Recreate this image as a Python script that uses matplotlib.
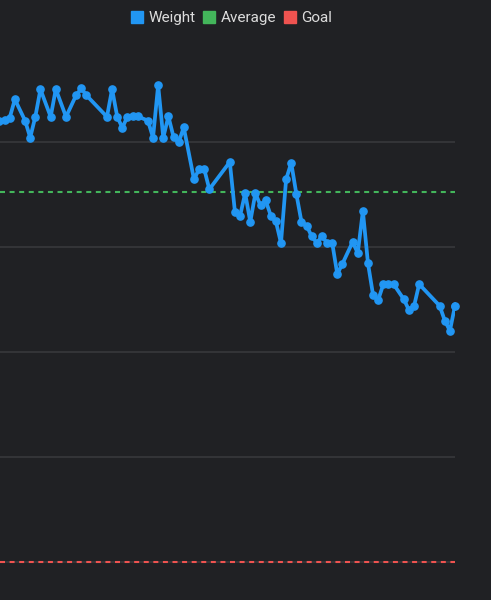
import numpy as np
import matplotlib
matplotlib.use("Agg")
import matplotlib.pyplot as plt
from matplotlib.lines import Line2D

# day index and weight (kg)
days = [0, 1, 2, 3, 5, 6, 7, 8, 10, 11, 13, 15, 16, 17, 21, 22, 23, 24, 25, 26,
        27, 29, 30, 31, 32, 33, 34, 35, 36, 38, 39, 40, 41, 45, 46, 47, 48, 49, 50, 51,
        52, 53, 54, 55, 56, 57, 58, 59, 60, 61, 62, 63, 64, 65, 66, 67, 69, 70, 71, 72,
        73, 74, 75, 76, 77, 79, 80, 81, 82, 86, 87, 88, 89]
weight = [86.0, 86.05, 86.16, 87.03, 86.02, 85.21, 86.2, 87.51, 86.2, 87.52, 86.2, 87.24,
          87.55, 87.22, 86.2, 87.52, 86.21, 85.68, 86.21, 86.22, 86.22, 86.02, 85.21, 87.71,
          85.21, 86.22, 85.25, 84.98, 85.7, 83.22, 83.71, 83.71, 82.75, 84.05, 81.68, 81.48,
          82.56, 81.2, 82.56, 81.98, 82.22, 81.5, 81.22, 80.19, 83.22, 84.01, 82.53, 81.2,
          81.02, 80.51, 80.2, 80.51, 80.2, 80.21, 78.71, 79.2, 80.24, 79.71, 81.71, 79.22,
          77.7, 77.48, 78.23, 78.23, 78.23, 77.51, 77.0, 77.19, 78.23, 77.2, 76.5, 76.01, 77.2]
average = 82.62
goal = 65.0
grid_values = [65, 70, 75, 80, 85]
labels = ["Weight", "Average", "Goal"]

bg = "#202124"
blue = "#2196f3"
green = "#43b65b"
red = "#ef5350"

plt.rcParams["font.family"] = ["Roboto", "DejaVu Sans"]

fig = plt.figure(figsize=(4.91, 6.0), dpi=100, facecolor=bg)
ax = fig.add_axes([0, 0, 455 / 491, 555 / 600])
ax.set_facecolor(bg)

for g in grid_values:
    ax.axhline(g, color="#3a3b3e", lw=1.1, zorder=1)

ax.axhline(average, color=green, lw=1.5, dashes=(2.4, 2.2), zorder=2)
ax.axhline(goal, color=red, lw=1.5, dashes=(2.4, 2.2), zorder=2)

ax.plot(days, weight, color=blue, lw=2.7, marker="o", markersize=5.2,
        solid_joinstyle="round", zorder=3)
# keep the last dot whole at the right edge
ax.plot(days[-1:], weight[-1:], color=blue, marker="o", markersize=5.2,
        ls="none", zorder=3, clip_on=False)

ax.set_xlim(0.1, 89)
ax.set_ylim(63.19, 89.62)
for s in ax.spines.values():
    s.set_visible(False)
ax.set_xticks([])
ax.set_yticks([])

handles = [Line2D([], [], color=c, marker="s", ls="none", markersize=8)
           for c in [blue, green, red]]
fig.legend(handles, labels, loc="center", bbox_to_anchor=(231 / 491, 1 - 18 / 600),
           ncol=3, frameon=False, fontsize=11, labelcolor="#dcdcdc",
           handletextpad=0.3, columnspacing=0.45, handlelength=0.9)

fig.savefig("out.png", dpi=100, facecolor=bg)
